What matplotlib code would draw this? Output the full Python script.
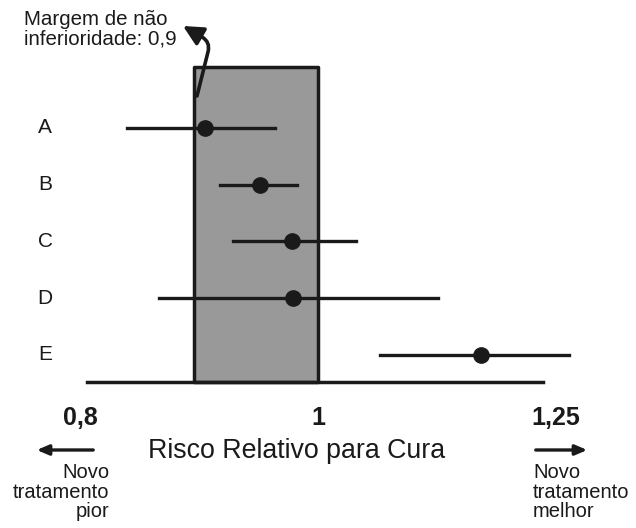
import matplotlib.pyplot as plt
import numpy as np

plt.rcParams['font.family'] = ['Liberation Sans', 'DejaVu Sans']

# estudos e intervalos de confianca (risco relativo)
estudos = ['A', 'B', 'C', 'D', 'E']
rr = [0.899, 0.947, 0.976, 0.977, 1.165]
ic_inf = [0.836, 0.912, 0.923, 0.861, 1.060]
ic_sup = [0.960, 0.980, 1.036, 1.119, 1.265]
margem = 0.89
ticks = [0.8, 1, 1.25]
tick_labels = ['0,8', '1', '1,25']

W, H = 636, 528
fig = plt.figure(figsize=(W / 100, H / 100), dpi=100)
ax = fig.add_axes([0, 0, 1, 1])
ax.set_xscale('log')
ax.set_xlim(0.742, 1.3476)
ax.set_ylim(8.05, -1.255)
ax.axis('off')

pos = np.arange(1, len(estudos) + 1)
cor = '#1a1a1a'

# caixa da margem de nao inferioridade
ax.fill_between([margem, 1.0], -0.075, 5.476, facecolor='#999999',
                edgecolor=cor, linewidth=2.5, zorder=1)
# linha base
ax.plot([0.805, 1.235], [5.476, 5.476], color=cor, lw=2.5, zorder=2)

for y, m, lo, hi in zip(pos, rr, ic_inf, ic_sup):
    ax.plot([lo, hi], [y, y], color=cor, lw=2.4, zorder=3)
    ax.plot(m, y, 'o', color=cor, ms=11, zorder=4)

for y, lab in zip(pos, estudos):
    ax.text(0.774, y, lab, fontsize=15, ha='center', va='center', color=cor)

def fx(px):
    return px / W

def fy(py):
    return 1 - py / H

for t, lab in zip(ticks, tick_labels):
    ax.text(t, fy(418), lab, transform=ax.get_xaxis_transform(), fontsize=18,
            fontweight='bold', ha='center', va='center', color=cor)

fig.text(fx(297), fy(451), 'Risco Relativo para Cura', fontsize=19.3,
         ha='center', va='center', color=cor)

fig.text(fx(109), fy(492), 'Novo\ntratamento\npior', fontsize=14.5, ha='right',
         va='center', linespacing=1.02, color=cor, multialignment='right')
fig.text(fx(533), fy(492), 'Novo\ntratamento\nmelhor', fontsize=14.5, ha='left',
         va='center', linespacing=1.02, color=cor)

# setas de direcao
seta = dict(arrowstyle='-|>,head_length=0.7,head_width=0.3', color=cor, lw=2.4)
fig.add_artist(plt.Annotation('', xy=(fx(34), fy(450)), xytext=(fx(96), fy(450)),
                              xycoords='figure fraction', textcoords='figure fraction',
                              arrowprops=seta))
fig.add_artist(plt.Annotation('', xy=(fx(590), fy(450)), xytext=(fx(533), fy(450)),
                              xycoords='figure fraction', textcoords='figure fraction',
                              arrowprops=seta))

fig.text(fx(24), fy(29), 'Margem de não\ninferioridade: 0,9', fontsize=14.8,
         ha='left', va='center', linespacing=1.02, color=cor)
fig.add_artist(plt.Annotation('', xy=(fx(183), fy(26)), xytext=(fx(197), fy(96)),
                              xycoords='figure fraction', textcoords='figure fraction',
                              arrowprops=dict(arrowstyle='-|>,head_length=1.2,head_width=0.6',
                                              connectionstyle='angle,angleA=76,angleB=-30,rad=10',
                                              shrinkA=0, shrinkB=0, color=cor, lw=2.6)))

fig.savefig('out.png', dpi=100, facecolor='white')
